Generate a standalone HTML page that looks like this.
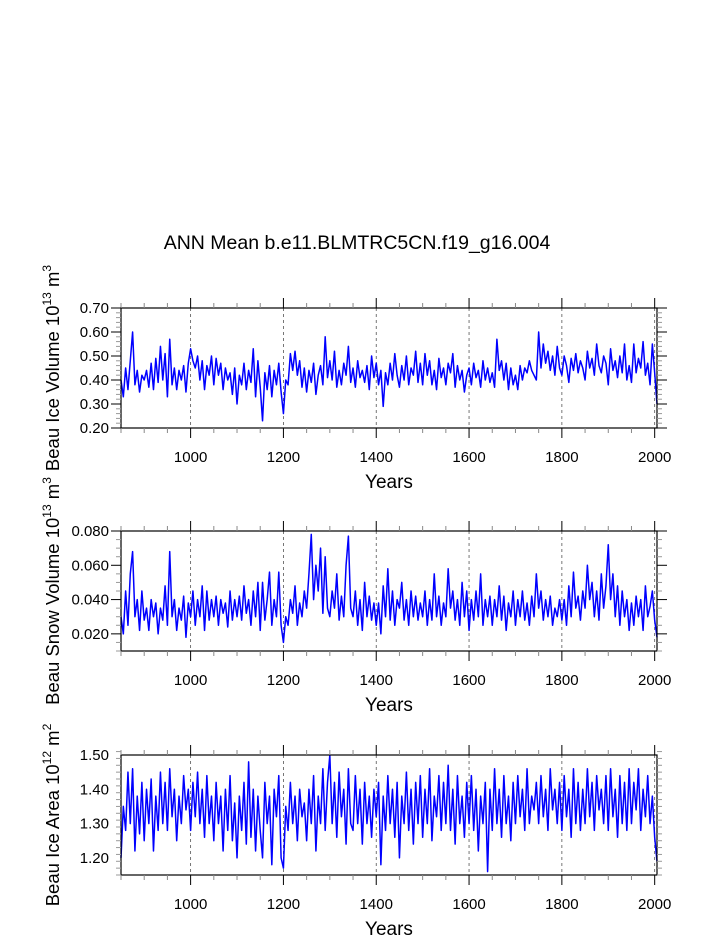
<!DOCTYPE html>
<html><head><meta charset="utf-8"><style>
html,body{margin:0;padding:0;background:#fff}
svg{display:block;font-family:"Liberation Sans",Arial,sans-serif}
</style></head><body>
<svg id="chart" width="723" height="935" viewBox="0 0 723 935">
<text x="357" y="249" font-size="19.5" text-anchor="middle">ANN Mean b.e11.BLMTRC5CN.f19_g16.004</text>
</svg>
<script>
const years=[];for(let y=850;y<=2005;y+=5)years.push(y);
const iceVolume=[.40,.33,.45,.36,.48,.60,.38,.44,.35,.42,
.40,.44,.37,.47,.36,.49,.39,.54,.40,.51,
.33,.57,.38,.45,.36,.44,.40,.46,.35,.47,
.53,.48,.45,.50,.40,.48,.36,.46,.42,.50,
.38,.49,.42,.47,.36,.45,.40,.43,.34,.45,
.30,.42,.38,.47,.36,.44,.39,.53,.33,.48,
.37,.23,.43,.36,.46,.33,.44,.38,.47,.35,
.26,.40,.38,.51,.44,.52,.42,.48,.37,.45,
.35,.44,.39,.47,.34,.42,.46,.38,.58,.41,
.48,.40,.52,.37,.44,.38,.47,.42,.54,.39,
.45,.37,.48,.41,.44,.39,.46,.36,.50,.41,
.47,.38,.44,.29,.43,.38,.47,.40,.51,.42,
.37,.46,.40,.50,.38,.45,.42,.52,.39,.47,
.38,.51,.42,.48,.38,.44,.36,.49,.41,.45,
.38,.47,.43,.51,.37,.46,.40,.44,.35,.42,
.45,.38,.47,.41,.44,.37,.48,.40,.45,.39,
.43,.37,.57,.44,.48,.40,.47,.36,.45,.38,
.42,.36,.46,.40,.45,.43,.48,.44,.42,.40,
.60,.45,.55,.47,.52,.44,.50,.42,.54,.45,
.42,.50,.46,.39,.49,.44,.51,.43,.48,.45,
.40,.52,.45,.49,.42,.55,.46,.43,.50,.47,
.38,.53,.44,.48,.41,.50,.43,.55,.40,.46,
.39,.55,.43,.49,.45,.56,.42,.47,.38,.55,
.43,.30];
const snowVolume=[.030,.020,.045,.025,.055,.068,.030,.040,.022,.045,
.028,.035,.022,.040,.030,.038,.020,.035,.028,.048,
.025,.068,.030,.040,.022,.035,.028,.042,.018,.038,
.030,.045,.025,.040,.030,.048,.022,.045,.028,.040,
.030,.042,.025,.040,.032,.038,.024,.045,.028,.040,
.030,.042,.028,.048,.032,.040,.025,.045,.030,.050,
.022,.050,.028,.040,.056,.025,.040,.030,.056,.025,
.015,.030,.025,.040,.032,.048,.025,.038,.030,.045,
.035,.055,.078,.040,.060,.045,.070,.032,.065,.035,
.030,.045,.035,.055,.028,.042,.030,.060,.077,.035,
.030,.045,.025,.040,.022,.050,.030,.042,.028,.038,
.025,.038,.020,.048,.030,.058,.028,.045,.025,.040,
.035,.050,.028,.040,.025,.045,.030,.042,.028,.038,
.030,.045,.025,.040,.028,.055,.030,.042,.025,.038,
.030,.058,.035,.045,.028,.040,.025,.050,.030,.045,
.022,.040,.028,.045,.030,.055,.025,.040,.030,.042,
.025,.040,.030,.048,.028,.042,.022,.038,.030,.045,
.025,.040,.030,.045,.028,.038,.025,.042,.030,.055,
.035,.045,.028,.040,.030,.042,.025,.035,.030,.040,
.028,.040,.025,.048,.030,.056,.035,.042,.028,.045,
.035,.060,.040,.050,.030,.045,.028,.055,.035,.048,
.072,.040,.055,.030,.048,.025,.045,.030,.040,.022,
.038,.025,.042,.030,.040,.022,.048,.030,.036,.045,
.028,.018];
const iceArea=[1.20,1.35,1.28,1.45,1.30,1.46,1.22,1.38,1.27,1.42,
1.25,1.40,1.30,1.43,1.22,1.38,1.28,1.45,1.30,1.42,
1.28,1.46,1.32,1.40,1.25,1.38,1.30,1.44,1.34,1.40,
1.28,1.42,1.32,1.45,1.30,1.40,1.26,1.44,1.30,1.38,
1.25,1.42,1.30,1.38,1.22,1.40,1.28,1.44,1.25,1.36,
1.20,1.38,1.28,1.42,1.24,1.48,1.26,1.40,1.22,1.38,
1.28,1.20,1.42,1.30,1.38,1.18,1.40,1.32,1.44,1.20,
1.17,1.35,1.28,1.42,1.30,1.38,1.25,1.40,1.32,1.36,
1.25,1.40,1.30,1.44,1.22,1.38,1.30,1.46,1.28,1.42,
1.50,1.30,1.42,1.26,1.45,1.32,1.40,1.24,1.46,1.30,
1.28,1.44,1.30,1.40,1.24,1.42,1.30,1.38,1.26,1.40,
1.32,1.42,1.18,1.38,1.28,1.44,1.30,1.40,1.26,1.42,
1.20,1.38,1.30,1.45,1.28,1.40,1.24,1.42,1.30,1.44,
1.26,1.40,1.30,1.46,1.25,1.38,1.32,1.44,1.28,1.42,
1.30,1.47,1.28,1.40,1.24,1.44,1.30,1.38,1.26,1.42,
1.30,1.44,1.28,1.40,1.22,1.38,1.30,1.42,1.16,1.40,
1.28,1.46,1.30,1.40,1.26,1.44,1.30,1.38,1.25,1.42,
1.30,1.44,1.32,1.40,1.28,1.46,1.30,1.38,1.34,1.42,
1.30,1.44,1.32,1.40,1.28,1.46,1.34,1.40,1.30,1.42,
1.28,1.44,1.32,1.40,1.26,1.46,1.30,1.42,1.28,1.40,
1.30,1.46,1.32,1.42,1.28,1.44,1.34,1.40,1.30,1.44,
1.28,1.46,1.32,1.40,1.26,1.44,1.30,1.42,1.28,1.46,
1.30,1.42,1.34,1.46,1.28,1.40,1.32,1.44,1.30,1.38,
1.26,1.19];
const xTickLabels=[1000,1200,1400,1600,1800,2000];
const volTicks=["0.20","0.30","0.40","0.50","0.60","0.70"];
const snowTicks=["0.020","0.040","0.060","0.080"];
const areaTicks=["1.20","1.30","1.40","1.50"];

const svg=document.getElementById('chart');
const NS="http://www.w3.org/2000/svg";
function mk(tag,attrs,parent){const e=document.createElementNS(NS,tag);for(const k in attrs)e.setAttribute(k,attrs[k]);(parent||svg).appendChild(e);return e;}
const L=121,R=657,X0=850,X1=2005;
const xs=y=>L+(y-X0)/(X1-X0)*(R-L);

function panel(name,top,ymin,ymax,major,minor,labels,values,titleMain,sup,unit,usup){
  const bot=top+120;
  const ys=v=>bot-(v-ymin)/(ymax-ymin)*120;
  const g=mk('g',{});
  
  
  xTickLabels.forEach(t=>{const l=mk('line',{x1:xs(t),x2:xs(t),y1:top,y2:bot,stroke:'#555','stroke-width':0.8,'stroke-dasharray':'3,3'},g);
    });
  const d=values.map((v,i)=>(i?'L':'M')+xs(years[i]).toFixed(2)+','+ys(v).toFixed(2)).join('');
  const p=mk('path',{d:d,fill:'none',stroke:'#0000ff','stroke-width':1.5,'stroke-linejoin':'round'},g);
  
  const f=mk('rect',{x:L,y:top,width:R-L,height:120,fill:'none',stroke:'#000','stroke-width':1.2},g);
  
  for(let t=850;t<=2005;t+=50){
    const mj=(t%200===0);const len=mj?10:5;
    mk('line',{x1:xs(t),x2:xs(t),y1:top,y2:top-len,stroke:mj?'#000':'#888','stroke-width':1},g);
    mk('line',{x1:xs(t),x2:xs(t),y1:bot,y2:bot+len,stroke:mj?'#000':'#888','stroke-width':1},g);
  }
  xTickLabels.forEach(t=>{const tx=mk('text',{x:xs(t),y:bot+34,'font-size':15,'text-anchor':'middle'},g);tx.textContent=t;
    });
  const xt=mk('text',{x:389,y:bot+60,'font-size':19,'text-anchor':'middle'},g);xt.textContent='Years';
  
  const n=Math.round((ymax-ymin)/minor);
  for(let i=0;i<=n;i++){const v=ymin+i*minor;const y=ys(v);
    const mj=Math.abs((v-parseFloat(labels[0]))/major-Math.round((v-parseFloat(labels[0]))/major))<1e-6 && v>=parseFloat(labels[0])-1e-9;
    const len=mj?10:5;const c=mj?'#000':'#999';
    mk('line',{x1:L,x2:L-len,y1:y,y2:y,stroke:c,'stroke-width':1},g);
    mk('line',{x1:R,x2:R+len,y1:y,y2:y,stroke:c,'stroke-width':1},g);}
  labels.forEach(s=>{const tx=mk('text',{x:L-12,y:ys(parseFloat(s))+5,'font-size':15,'text-anchor':'end'},g);tx.textContent=s;
    });
  const cy=top+60;
  const yt=mk('text',{x:0,y:0,'font-size':18.5,'text-anchor':'middle',transform:`translate(59,${cy}) rotate(-90)`},g);
  
  const a=mk('tspan',{},yt);a.textContent=titleMain;
  const b=mk('tspan',{dy:-8,'font-size':12},yt);b.textContent=sup;
  const c=mk('tspan',{dy:8},yt);c.textContent=' '+unit;
  const d2=mk('tspan',{dy:-8,'font-size':12},yt);d2.textContent=usup;
}
panel('ice-volume',308,0.2,0.7,0.1,0.02,volTicks,iceVolume,'Beau Ice Volume 10','13','m','3');
panel('snow-volume',531,0.01,0.08,0.02,0.005,snowTicks,snowVolume,'Beau Snow Volume 10','13','m','3');
panel('ice-area',755,1.15,1.50,0.1,0.02,areaTicks,iceArea,'Beau Ice Area 10','12','m','2');
</script>
</body></html>
